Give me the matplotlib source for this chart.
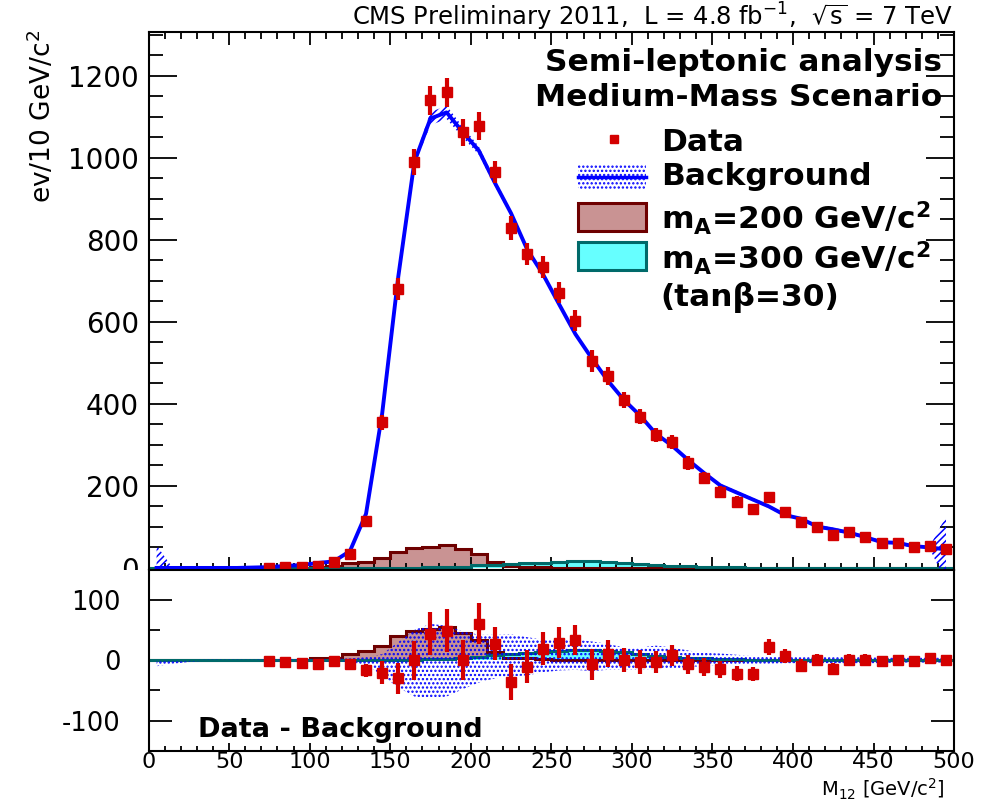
import numpy as np
import matplotlib
matplotlib.use("Agg")
import matplotlib.pyplot as plt
from matplotlib.patches import Rectangle
from matplotlib.lines import Line2D
from matplotlib.ticker import MultipleLocator

plt.rcParams['font.family'] = 'DejaVu Sans'
plt.rcParams['mathtext.fontset'] = 'dejavusans'
plt.rcParams['axes.unicode_minus'] = False
plt.rcParams['hatch.linewidth'] = 1.1

# 10 GeV bins over 0-500 GeV/c^2
edges = np.arange(0, 510, 10)
centers = edges[:-1] + 5

# expected background per bin
bkg = np.array([0, 0, 0, 0, 0, 0, 1, 2, 5, 7,
                12, 16, 41, 132, 376, 710, 990, 1096, 1111, 1063,
                1018, 939, 865, 777, 715, 642, 570, 512, 457, 410,
                372, 327, 298, 263, 231, 201, 184, 167, 150, 129,
                120, 101, 94, 86, 75, 63, 61, 53, 50, 45])

# hatched uncertainty on the background curve (half width)
bkg_hatch = np.array([55, 0, 0, 0, 0, 0, 0, 0, 0, 0,
                      0, 0, 0, 0, 0, 0, 8, 16, 16, 13,
                      10, 8, 7, 6, 5, 5, 4, 4, 4, 4,
                      4, 4, 4, 4, 4, 4, 4, 4, 4, 4,
                      4, 4, 4, 4, 4, 4, 4, 4, 4, 80])

# residual-panel background band (upper / lower offsets)
band_hi = np.array([0, 0, 0, 1, 1, 1, 1, 2, 2, 2,
                    2, 2, 3, 5, 10, 30, 50, 60, 57, 48,
                    42, 42, 43, 38, 34, 35, 34, 31, 27, 21,
                    21, 24, 21, 16, 12, 11, 9, 7, 6, 5,
                    5, 5, 5, 5, 5, 4, 4, 4, 4, 4])
band_lo = np.array([-10, -6, -3, -1, -1, -1, -1, -2, -2, -2,
                    -2, -2, -3, -8, -25, -45, -60, -63, -60, -48,
                    -37, -30, -27, -25, -20, -17, -16, -18, -16, -16,
                    -16, -15, -14, -12, -9, -8, -7, -6, -6, -5,
                    -5, -5, -5, -5, -5, -5, -4, -4, -4, -4])

# signal templates, m_A = 200 and 300 GeV/c^2 (tan beta = 30)
sig200 = np.array([0, 0, 0, 0, 0, 0, 0, 0, 0, 0,
                   3, 4, 11, 15, 24, 40, 48, 52, 55, 45,
                   33, 14, 4, 3, 2, 1, 1, 0, 0, 0,
                   0, 0, 0, 0, 0, 0, 0, 0, 0, 0,
                   0, 1, 1, 0, 0, 0, 0, 0, 0, 0])
sig300 = np.array([0, 0, 0, 0, 0, 0, 0, 0, 0, 0,
                   0, 0, 0, 0, 0, 0, 1, 2, 2, 3,
                   6, 8, 10, 12, 13, 15, 16, 16, 15, 13,
                   10, 7, 5, 4, 3, 2, 2, 1, 1, 1,
                   0, 0, 0, 0, 0, 0, 0, 0, 0, 0])

# observed events, bins 70-500
data = np.array([1, 2, 3, 5, 15, 35, 115, 355, 680, 990,
                 1140, 1160, 1063, 1078, 966, 829, 766, 734, 671, 603,
                 505, 468, 410, 369, 324, 306, 256, 220, 186, 162,
                 144, 172, 136, 111, 101, 80, 87, 76, 62, 62,
                 52, 54, 46])
data_err = np.array([1, 1.5, 2, 2, 4, 6, 11, 19, 26, 32,
                     36, 35, 33, 34, 27, 30, 27, 27, 26, 25,
                     26, 22, 20, 19, 18, 17, 16, 15, 14, 13,
                     12, 13, 12, 11, 10, 9, 9, 9, 8, 8,
                     7, 7, 7])
first_data_bin = 7
data_x = centers[first_data_bin:]
resid = data - bkg[first_data_bin:]

RED = "#d40000"
BLUE = "#0000ff"
BROWN_F, BROWN_E = "#c99393", "#6e0000"
CYAN_F, CYAN_E = "#66ffff", "#006a6a"

fig = plt.figure(figsize=(9.85, 8.02), dpi=100)
ax = fig.add_axes([0.1508, 0.2893, 0.8178, 0.6708], zorder=0)
axr = fig.add_axes([0.1508, 0.0636, 0.8178, 0.2257], zorder=2)

# ---- upper panel: spectrum
ax.stairs(sig200, edges, fill=True, color=BROWN_F, zorder=1)
ax.stairs(sig200, edges, color=BROWN_E, lw=2.2, zorder=2)
ax.stairs(sig300, edges, fill=True, color=CYAN_F, zorder=1)
ax.stairs(sig300, edges, color=CYAN_E, lw=2.2, zorder=2)
ax.fill_between(centers, bkg - bkg_hatch, bkg + bkg_hatch, facecolor="none",
                edgecolor=BLUE, hatch="/////", lw=0, zorder=3)
ax.plot(centers, bkg, color=BLUE, lw=2.8, zorder=4)
ax.errorbar(data_x, data, yerr=data_err, fmt="s", color=RED, ms=7,
            elinewidth=3, capsize=0, zorder=5)

ax.set_xlim(0, 500)
ax.set_ylim(-5, 1307)
ax.xaxis.set_major_locator(MultipleLocator(50))
ax.xaxis.set_minor_locator(MultipleLocator(10))
ax.yaxis.set_major_locator(MultipleLocator(200))
ax.yaxis.set_minor_locator(MultipleLocator(50))
ax.tick_params(which="both", direction="in", top=True, right=True, width=1.3,
               labelbottom=False, labelsize=20, pad=7)
ax.tick_params(axis="y", which="major", length=20)
ax.tick_params(axis="y", which="minor", length=10)
ax.tick_params(axis="x", which="major", length=9.5)
ax.tick_params(axis="x", which="minor", length=5)
for s in ax.spines.values():
    s.set_linewidth(1.5)

# legend block
T = ax.transAxes
ax.text(0.985, 0.9424, "Semi-leptonic analysis", transform=T, ha="right",
        va="center", fontsize=22.5, fontweight="bold")
ax.text(0.985, 0.879, "Medium-Mass Scenario", transform=T, ha="right",
        va="center", fontsize=22.5, fontweight="bold")
ax.add_line(Line2D([0.578], [0.801], transform=T, marker="s", ms=6,
                   color=RED, ls="none"))
ax.add_patch(Rectangle((0.533, 0.708), 0.0846, 0.0465, transform=T,
                       facecolor="none", edgecolor=BLUE, hatch="....", lw=0))
ax.add_line(Line2D([0.533, 0.6176], [0.7312, 0.7312], transform=T,
                   color=BLUE, lw=2.5))
ax.add_patch(Rectangle((0.533, 0.630), 0.0846, 0.052, transform=T,
                       facecolor=BROWN_F, edgecolor=BROWN_E, lw=2.2))
ax.add_patch(Rectangle((0.533, 0.5576), 0.0846, 0.052, transform=T,
                       facecolor=CYAN_F, edgecolor=CYAN_E, lw=2.2))
leg_txt = [("Data", 0.7955),
           ("Background", 0.7305),
           (r"m$_{\mathbf{A}}$=200 GeV/c$^{\mathbf{2}}$", 0.654),
           (r"m$_{\mathbf{A}}$=300 GeV/c$^{\mathbf{2}}$", 0.580),
           ("(tanβ=30)", 0.5074)]
for txt, yy in leg_txt:
    ax.text(0.636, yy, txt, transform=T, ha="left", va="center",
            fontsize=22.5, fontweight="bold")

# ---- lower panel: data minus background
axr.stairs(sig200, edges, fill=True, color=BROWN_F, zorder=1)
axr.stairs(sig200, edges, color=BROWN_E, lw=2.2, zorder=2)
axr.stairs(sig300, edges, fill=True, color=CYAN_F, zorder=1)
axr.stairs(sig300, edges, color=CYAN_E, lw=2.2, zorder=2)
axr.fill_between(centers, band_lo, band_hi, facecolor="none", edgecolor=BLUE,
                 hatch="....", lw=0, zorder=3)
axr.errorbar(data_x, resid, yerr=data_err, fmt="s", color=RED, ms=7,
             elinewidth=3, capsize=0, zorder=5)
axr.text(0.061, 0.116, "Data - Background", transform=axr.transAxes,
         ha="left", va="center", fontsize=19.5, fontweight="bold")

axr.set_xlim(0, 500)
axr.set_ylim(-150, 149)
axr.xaxis.set_major_locator(MultipleLocator(50))
axr.xaxis.set_minor_locator(MultipleLocator(10))
axr.yaxis.set_major_locator(MultipleLocator(100))
axr.yaxis.set_minor_locator(MultipleLocator(50))
axr.tick_params(which="both", direction="in", right=True, width=1.3)
axr.tick_params(axis="y", which="major", length=16.5, labelsize=18.5, pad=20)
axr.tick_params(axis="y", which="minor", length=8)
axr.tick_params(axis="x", which="major", length=6, labelsize=16, pad=1)
axr.tick_params(axis="x", which="minor", length=3.5)
for s in axr.spines.values():
    s.set_linewidth(1.5)

# hide the lower half of the upper panel's "0" label
fig.add_artist(Rectangle((0, 0), 0.1508, 0.2893, transform=fig.transFigure,
                         facecolor="white", edgecolor="none", zorder=1))

fig.text(0.0426, 0.9626, r"ev/10 GeV/c$^{\mathregular{2}}$", rotation=90,
         ha="center", va="top", fontsize=19)
fig.text(952 / 985, 1 - 17 / 802,
         r"CMS Preliminary 2011,  L = 4.8 fb$^{\mathregular{-1}}$,  "
         r"$\sqrt{\mathregular{s}}$ = 7 TeV",
         ha="right", va="center", fontsize=17.5)
fig.text(945 / 985, 1 - 789 / 802, r"M$_{\mathregular{12}}$ [GeV/c$^{\mathregular{2}}$]",
         ha="right", va="center", fontsize=14)

fig.savefig("out.png", dpi=100)
